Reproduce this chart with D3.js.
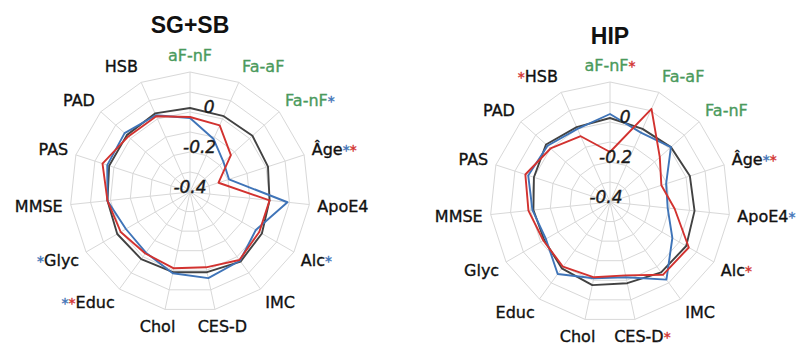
<!DOCTYPE html>
<html>
<head>
<meta charset="utf-8">
<script src="https://cdn.jsdelivr.net/npm/d3@7"></script>
<style>
  body { margin: 0; background: #fff; }
  svg { display: block; }
</style>
</head>
<body>
<div id="chart"></div>
<script>
// Axis labels, clockwise from the top
var axes = ["aF-nF", "Fa-aF", "Fa-nF", "Âge", "ApoE4", "Alc", "IMC", "CES-D", "Chol", "Educ", "Glyc", "MMSE", "PAS", "PAD", "HSB"];
var greenAxes = ["aF-nF", "Fa-aF", "Fa-nF"];

// Asterisks before / after each label ("b" = blue, "r" = red)
var sgStarsBefore = ["", "", "", "", "", "", "", "", "", "br", "b", "", "", "", ""];
var sgStarsAfter  = ["", "", "b", "br", "", "b", "", "", "", "", "", "", "", "", ""];
var hipStarsBefore = ["", "", "", "", "", "", "", "", "", "", "", "", "", "", "r"];
var hipStarsAfter  = ["r", "", "", "br", "b", "r", "", "r", "", "", "", "", "", "", ""];

// Series values
var sgBlack = [0.02, 0.015, 0.02, 0.01, 0.0, 0.015, 0.03, 0.01, 0.01, 0.015, 0.02, 0.015, 0.025, 0.025, 0.03];
var sgBlue  = [-0.03, -0.11, -0.175, -0.195, 0.09, -0.02, 0.025, 0.04, 0.015, -0.025, -0.03, 0.015, 0.035, 0.04, 0.02];
var sgRed   = [-0.025, -0.035, -0.125, -0.25, 0.0, 0.0, 0.02, -0.015, -0.01, -0.02, 0.0, 0.015, 0.06, 0.015, 0.015];

var hipBlack = [0.02, 0.0, 0.01, 0.02, 0.025, 0.04, 0.035, 0.015, 0.025, 0.01, -0.02, -0.015, 0.0, 0.03, 0.01];
var hipBlue  = [0.04, -0.02, 0.01, -0.105, -0.11, -0.04, 0.08, -0.015, -0.01, 0.045, -0.03, -0.01, 0.03, 0.02, 0.0];
var hipRed   = [-0.15, 0.11, -0.065, -0.13, -0.075, 0.055, 0.05, -0.025, -0.015, 0.0, -0.015, 0.01, 0.045, 0.0, -0.04];

// Rings and tick labels
var rings = [-0.3, -0.2, -0.1, 0, 0.1, 0.2];
var tickValues = [0, -0.2, -0.4];
var tickLabels = ["0", "-0.2", "-0.4"];

var width = 798, height = 345;
var outerR = 120;
var colors = { black: "#424242", blue: "#3f74b8", red: "#d2322f", green: "#4a9a5c", grid: "#d8d8d8" };
var starColor = { b: colors.blue, r: colors.red };

var svg = d3.select("#chart").append("svg")
  .attr("width", width)
  .attr("height", height);

var rScale = d3.scaleLinear().domain([-0.4, 0.2]).range([0, outerR]);
var step = 2 * Math.PI / axes.length;

function drawRadar(cx, cy, title, titleY, series, starsBefore, starsAfter, tickShift) {
  var g = svg.append("g").attr("transform", "translate(" + cx + "," + cy + ")");

  // grid rings (polygons)
  rings.forEach(function(v) {
    var pts = axes.map(function(a, i) {
      var ang = i * step;
      return [Math.sin(ang) * rScale(v), -Math.cos(ang) * rScale(v)];
    });
    g.append("polygon")
      .attr("points", pts.map(function(p) { return p.join(","); }).join(" "))
      .attr("fill", "none")
      .attr("stroke", colors.grid)
      .attr("stroke-width", 1);
  });

  // spokes
  axes.forEach(function(a, i) {
    var ang = i * step;
    g.append("line")
      .attr("x1", 0).attr("y1", 0)
      .attr("x2", Math.sin(ang) * outerR)
      .attr("y2", -Math.cos(ang) * outerR)
      .attr("stroke", colors.grid)
      .attr("stroke-width", 1);
  });

  // data lines
  var line = d3.lineRadial()
    .angle(function(d, i) { return i * step; })
    .radius(function(d) { return rScale(d); })
    .curve(d3.curveLinearClosed);

  series.forEach(function(s) {
    g.append("path")
      .datum(s.values)
      .attr("d", line)
      .attr("fill", "none")
      .attr("stroke", s.color)
      .attr("stroke-width", 1.9)
      .attr("stroke-linejoin", "round");
  });

  // tick labels
  tickValues.forEach(function(v, i) {
    var r = rScale(v);
    g.append("text")
      .attr("x", tickShift + 0.24 * r)
      .attr("y", -r + 1)
      .attr("text-anchor", "middle")
      .attr("font-family", "DejaVu Sans")
      .attr("font-style", "italic")
      .attr("font-size", 17)
      .attr("fill", "#1a1a1a")
      .attr("stroke", "#1a1a1a")
      .attr("stroke-width", 0.4)
      .text(tickLabels[i]);
  });

  // axis labels
  axes.forEach(function(a, i) {
    var ang = i * step;
    var s = Math.sin(ang), c = Math.cos(ang);
    var px = s * (outerR + 8);
    var py = -c * (outerR + 8);
    var anchor = "middle";
    if (s > 0.35) anchor = "start";
    else if (s < -0.35) anchor = "end";
    else px = px + s * 28;
    var col = greenAxes.indexOf(a) >= 0 ? colors.green : "#111";
    var t = g.append("text")
      .attr("x", px)
      .attr("y", py - c * 9 + 5.5)
      .attr("text-anchor", anchor)
      .attr("font-family", "DejaVu Sans")
      .attr("font-size", 16)
      .attr("fill", col)
      .attr("stroke", col)
      .attr("stroke-width", 0.35);
    starsBefore[i].split("").forEach(function(k) {
      t.append("tspan").attr("fill", starColor[k]).attr("stroke", starColor[k]).attr("font-size", 14).text("*");
    });
    t.append("tspan").text(a);
    starsAfter[i].split("").forEach(function(k) {
      t.append("tspan").attr("fill", starColor[k]).attr("stroke", starColor[k]).attr("font-size", 14).text("*");
    });
  });

  // title
  svg.append("text")
    .attr("x", cx)
    .attr("y", titleY)
    .attr("text-anchor", "middle")
    .attr("font-family", "Liberation Sans")
    .attr("font-weight", "bold")
    .attr("font-size", 23)
    .attr("fill", "#111")
    .text(title);
}

drawRadar(190, 192, "SG+SB", 33,
  [{ values: sgBlack, color: colors.black }, { values: sgBlue, color: colors.blue }, { values: sgRed, color: colors.red }],
  sgStarsBefore, sgStarsAfter, 0);

drawRadar(610, 202, "HIP", 44,
  [{ values: hipBlack, color: colors.black }, { values: hipBlue, color: colors.blue }, { values: hipRed, color: colors.red }],
  hipStarsBefore, hipStarsAfter, -4);
</script>
</body>
</html>
